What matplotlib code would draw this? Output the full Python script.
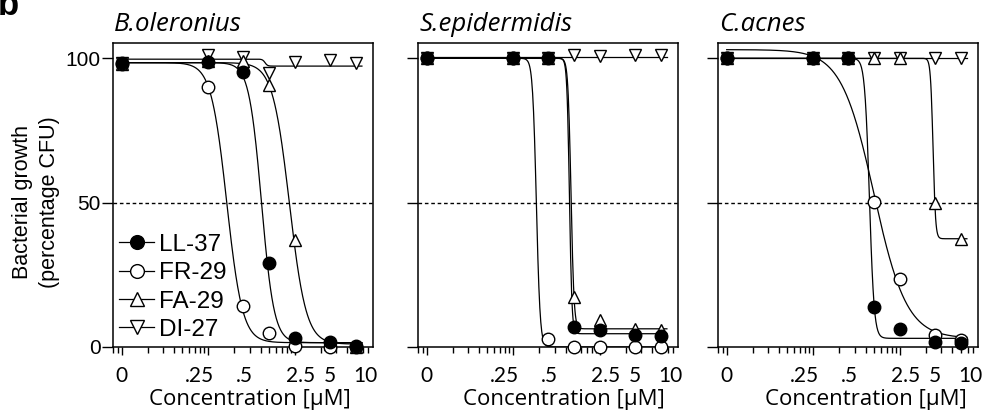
import numpy as np
import matplotlib
matplotlib.use("Agg")
import matplotlib.pyplot as plt
from matplotlib.ticker import LogLocator, NullFormatter, NullLocator

# concentrations on the log axis; the untreated control (0) is drawn at 0.01
conc = [0.01, 0.1, 0.25, 0.5, 1, 2.5, 5]

species = ["B.oleronius", "S.epidermidis", "C.acnes"]
peptides = ["LL-37", "FR-29", "FA-29", "DI-27"]

# percentage CFU
bol_ll37 = [98.2, 98.8, 95.4, 29.0, 3.0, 1.8, 0.4]
bol_fr29 = [98.0, 90.0, 14.2, 5.0, 0.3, 0.0, 0.0]
bol_fa29 = [98.0, 99.0, 99.0, 90.8, 37.0, 1.0, 0.0]
bol_di27 = [98.5, 101.0, 100.5, 94.8, 98.8, 99.4, 98.2]

sep_ll37 = [100, 100, 100, 7.0, 5.8, 4.0, 3.7]
sep_fr29 = [100, 100, 2.7, 0.0, 0.0, 0.0, 0.0]
sep_fa29 = [100, 100, 100, 17.3, 9.2, 6.4, 6.0]
sep_di27 = [100, 100, 100, 101.0, 100.7, 101.0, 101.0]

cac_ll37 = [100, 100, 100, 13.9, 6.4, 1.8, 1.3]
cac_fr29 = [100, 100, 100, 50.2, 23.5, 4.1, 2.3]
cac_fa29 = [100, 100, 100, 100, 100, 50.0, 37.5]
cac_di27 = [100, 100, 100, 100, 100, 100, 100]

# dose response fits: top, bottom, EC50, hill slope
bol_fit_ll37 = [98.5, 1.5, 0.41, 6.0]
bol_fit_fr29 = [98.5, 1.5, 0.163, 4.8]
bol_fit_fa29 = [98.5, 1.0, 0.86, 4.5]
bol_fit_di27 = [99.7, 97.3, 0.45, 30.0]

sep_fit_ll37 = [100, 4.6, 0.443, 30.0]
sep_fit_fr29 = [100, 0.0, 0.184, 20.0]
sep_fit_fa29 = [100, 6.3, 0.462, 25.0]
sep_fit_di27 = [100.3, 100.3, 1.0, 1.0]

cac_fit_ll37 = [100, 3.0, 0.443, 16.0]
cac_fit_fr29 = [103, 3.0, 0.50, 2.3]
cac_fit_fa29 = [100, 37.5, 2.40, 30.0]
cac_fit_di27 = [100, 100, 1.0, 1.0]

data = [
    [bol_ll37, bol_fr29, bol_fa29, bol_di27],
    [sep_ll37, sep_fr29, sep_fa29, sep_di27],
    [cac_ll37, cac_fr29, cac_fa29, cac_di27],
]
fits = [
    [bol_fit_ll37, bol_fit_fr29, bol_fit_fa29, bol_fit_di27],
    [sep_fit_ll37, sep_fit_fr29, sep_fit_fa29, sep_fit_di27],
    [cac_fit_ll37, cac_fit_fr29, cac_fit_fa29, cac_fit_di27],
]

xtick_pos = [0.01, 0.078, 0.257, 1.17, 2.51, 6.5]
xtick_text = ["0", ".25", ".5", "2.5", "5", "10"]

markers = ["o", "o", "^", "v"]
faces = ["black", "white", "white", "white"]

sans = "Liberation Sans"
calib = "Lato"
wide = "Open Sans"


def dose_response(x, top, bottom, ec50, hill):
    return bottom + (top - bottom) / (1 + (x / ec50) ** hill)


fig = plt.figure(figsize=(9.88, 4.18), dpi=100)
lefts = [113, 418, 718]
xlabel_x = [0.525, 0.56, 0.57]
xfit = np.logspace(np.log10(0.01), np.log10(5.9), 500)

for i, name in enumerate(species):
    ax = fig.add_axes([lefts[i] / 988, (418 - 347) / 418, 260 / 988, 304 / 418])
    ax.set_xscale("log")
    ax.set_xlim(0.00794, 7.92)
    ax.set_ylim(0, 105.3)

    ax.axhline(50, color="black", lw=1.0, ls=(0, (2.6, 2.0)), zorder=1)

    handles = []
    # LL-37 is drawn last so it sits on top
    for j in reversed(range(4)):
        ax.plot(xfit, dose_response(xfit, *fits[i][j]), color="black",
                lw=0.9, zorder=2)
        h, = ax.plot(conc, data[i][j], ls="-", lw=0.9, color="black",
                     marker=markers[j], ms=9, mfc=faces[j], mec="black",
                     mew=1.0, clip_on=False, zorder=10 - j,
                     label=peptides[j])
        h.set_linestyle("none")
        handles.append(h)
    handles = handles[::-1]

    for sp in ax.spines.values():
        sp.set_linewidth(1.1)

    # real tick marks
    ax.xaxis.set_major_locator(LogLocator(base=10, numticks=10))
    ax.xaxis.set_minor_locator(LogLocator(base=10, subs=np.arange(2, 10), numticks=20))
    ax.tick_params(axis="x", which="major", direction="out", length=6, width=1.0,
                   labelbottom=False)
    ax.tick_params(axis="x", which="minor", direction="out", length=4, width=1.0,
                   labelbottom=False)
    ax.xaxis.set_minor_formatter(NullFormatter())

    ax.set_yticks([0, 50, 100])
    ax.tick_params(axis="y", direction="out", length=8, width=1.0, pad=0.8,
                   labelleft=(i == 0), labelsize=15)
    for t in ax.get_yticklabels():
        t.set_fontfamily(sans)

    # concentration labels
    sec = ax.secondary_xaxis("bottom")
    sec.set_xticks(xtick_pos)
    sec.set_xticklabels(xtick_text, fontfamily=calib, fontsize=15)
    sec.xaxis.set_minor_locator(NullLocator())
    sec.xaxis.set_minor_formatter(NullFormatter())
    sec.tick_params(axis="x", which="both", length=0, pad=13.5)
    sec.spines["bottom"].set_visible(False)
    sec.set_xlabel("Concentration [\u00b5M]", fontfamily=wide, fontsize=16)
    sec.xaxis.set_label_coords(xlabel_x[i], -0.138, transform=ax.transAxes)

    ax.text(0.005, 1.0405, name, transform=ax.transAxes, ha="left", va="baseline",
            fontfamily=wide, fontstyle="italic", fontsize=18.5)

    if i == 0:
        for h in handles:
            h.set_linestyle("-")
        ax.legend(handles=handles, loc="lower left", bbox_to_anchor=(0.0, 0.0),
                  frameon=False, prop={"family": sans, "size": 17.5},
                  handlelength=1.45, handletextpad=0.2, labelspacing=0.26,
                  borderpad=0.25, borderaxespad=0.0, markerscale=1.1)
        for h in handles:
            h.set_linestyle("none")

fig.text(36 / 988, 1 - 202 / 418, "Bacterial growth\n(percentage CFU)", rotation=90,
         ha="center", va="center", fontfamily=sans, fontsize=15.5,
         linespacing=1.38, multialignment="center")

fig.text(-0.002, 1 - 15 / 418, "b", fontfamily=sans, fontweight="bold",
         fontsize=25, ha="left", va="baseline")

fig.savefig("out.png", dpi=100)
